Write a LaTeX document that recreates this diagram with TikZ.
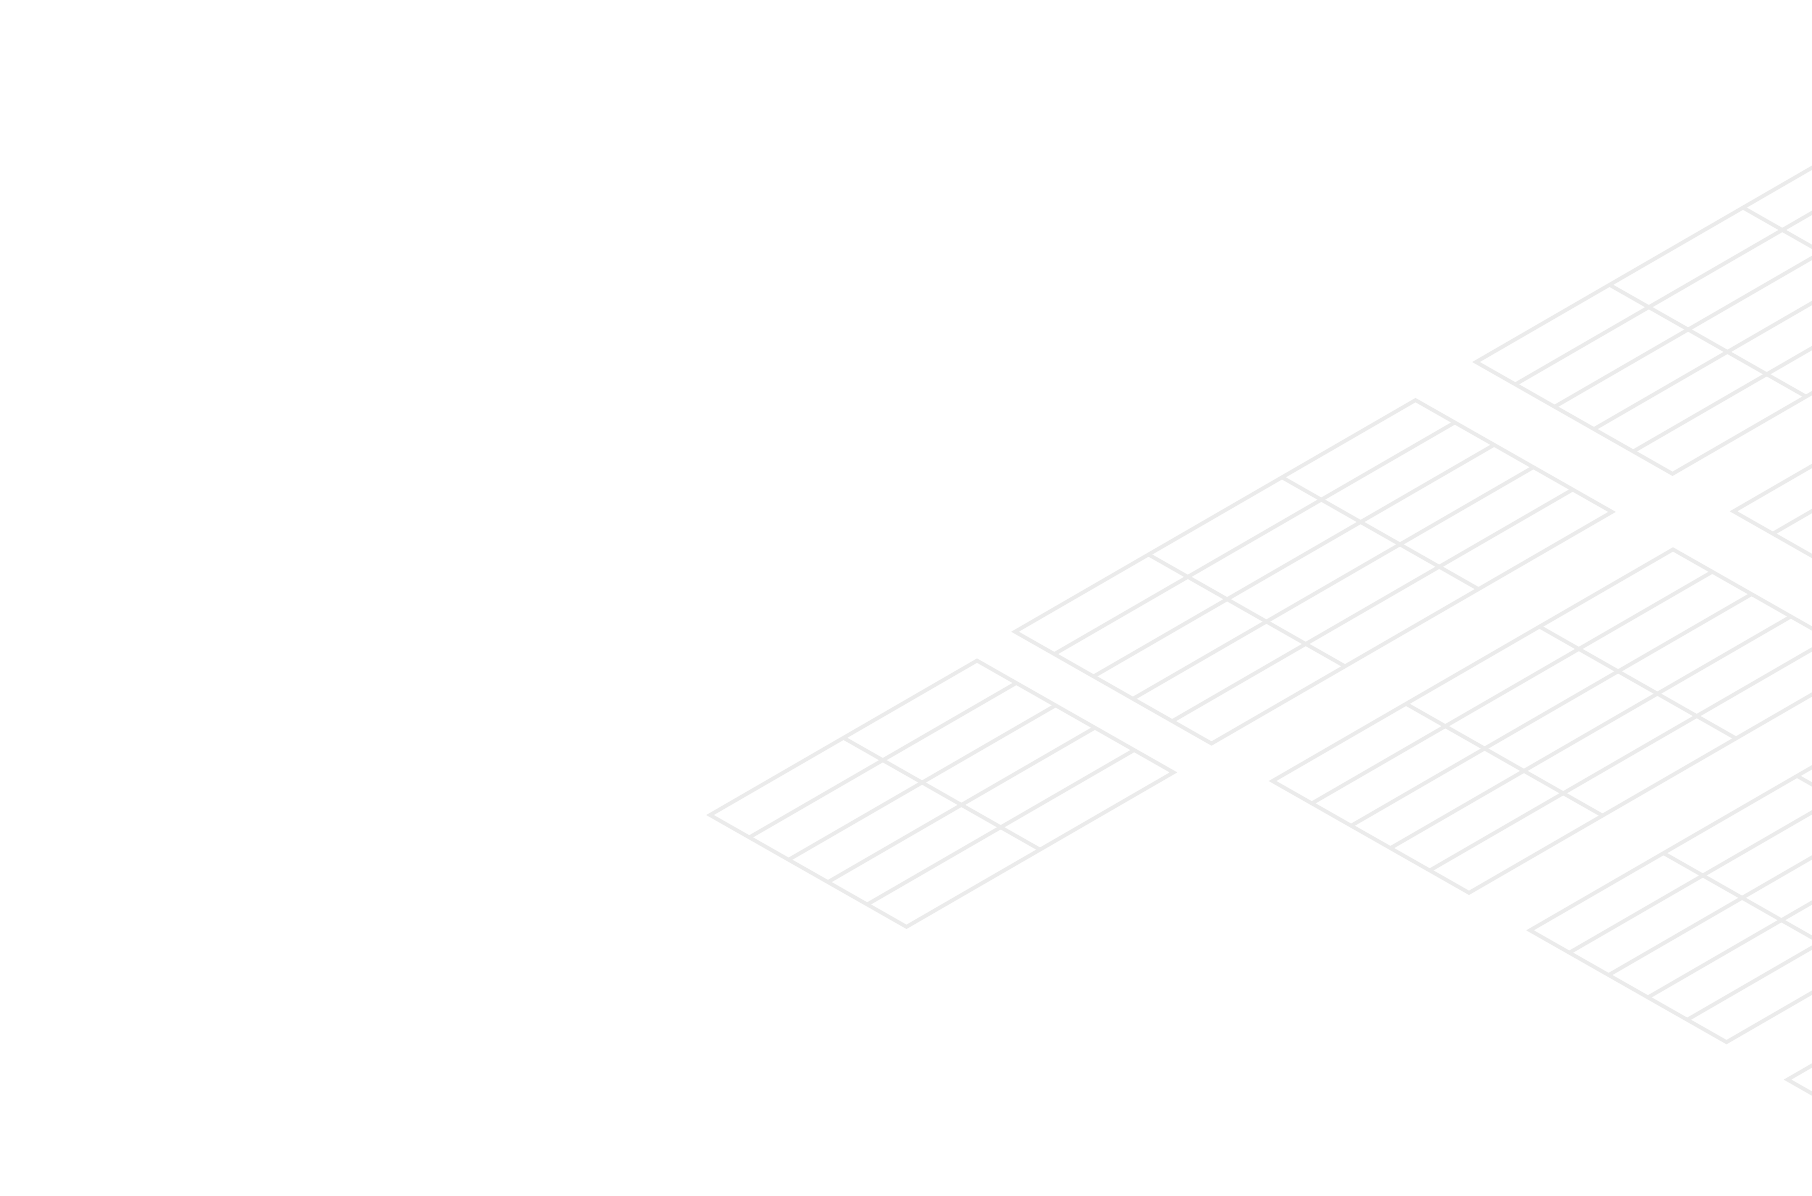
\documentclass[tikz,border=0pt]{standalone}
\usepackage{tikz}

\definecolor{panelgray}{RGB}{235,235,235}

% one panel: #1 cells along the long side, 5 strips across
\newcommand{\panelgrid}[1]{%
  \draw[panel] (0,0) -- (#1,0) -- (#1,5) -- (0,5) -- cycle;
  \foreach \i in {1,...,4} {\draw[panel] (0,\i) -- (#1,\i);}
  \foreach \i in {1,...,#1} {\ifnum\i<#1 \draw[panel] (\i,0) -- (\i,5); \fi}
}

\begin{document}
\begin{tikzpicture}[x=1pt,y=-1pt,
    panel/.style={draw=panelgray, line width=3.7pt},
    panelaxes/.style={x={(133.5pt,77.2pt)}, y={(39.3pt,-22.36pt)}}]
    \fill[white, use as bounding box] (0,0) rectangle (1812,1195);
    \clip (0,0) rectangle (1812,1195);
    \begin{scope}[shift={(710,815)}, panelaxes]
      \panelgrid{2}
    \end{scope}
    \begin{scope}[shift={(1015,631.7)}, panelaxes]
      \panelgrid{3}
    \end{scope}
    \begin{scope}[shift={(1272.5,781)}, panelaxes]
      \panelgrid{3}
    \end{scope}
    \begin{scope}[shift={(1476,362)}, panelaxes]
      \panelgrid{3}
    \end{scope}
    \begin{scope}[shift={(1733.5,511.3)}, panelaxes]
      \panelgrid{3}
    \end{scope}
    \begin{scope}[shift={(1530,930.3)}, panelaxes]
      \panelgrid{3}
    \end{scope}
    \begin{scope}[shift={(1787.5,1079.6)}, panelaxes]
      \panelgrid{3}
    \end{scope}
  \end{tikzpicture}
\end{document}
